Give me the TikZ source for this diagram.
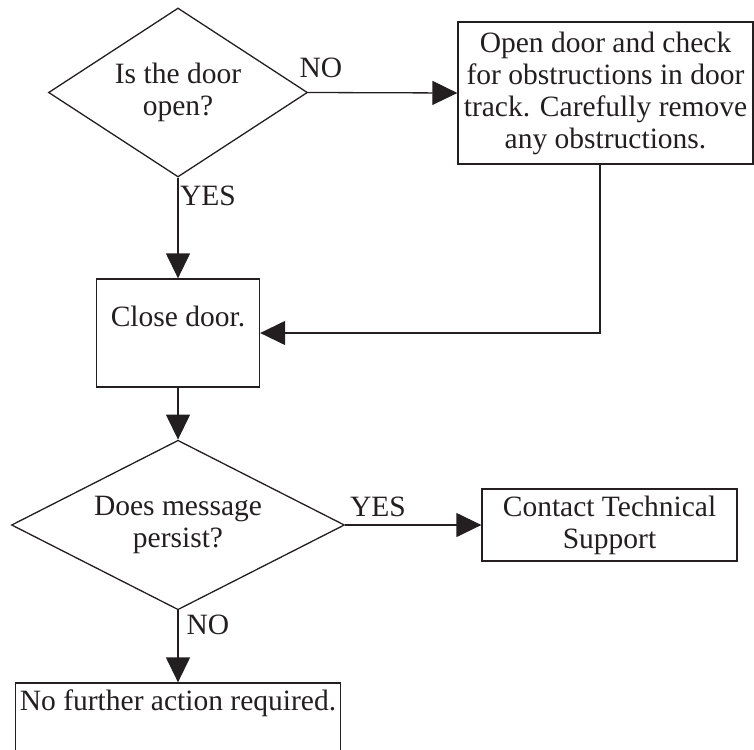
\documentclass[tikz,border=0pt]{standalone}
\usepackage{fontspec}
\setmainfont{Liberation Serif}
\usetikzlibrary{shapes.geometric,arrows.meta}
\definecolor{ink}{HTML}{231F20}
\begin{document}
\begin{tikzpicture}[x=1pt,y=-1pt,
  every node/.style={font=\fontsize{29.5}{32}\selectfont, text=ink},
  dia/.style={diamond, draw=ink, line width=1.3pt, inner sep=0pt, aspect=1.5, align=center},
  boxn/.style={rectangle, draw=ink, line width=1.3pt, inner sep=0pt, align=center},
  arr/.style={draw=ink, line width=1.3pt, -{Triangle[width=24pt,length=25pt]}},
  lab/.style={inner sep=0pt}]
\useasboundingbox (0,0) rectangle (754,749);
\node[dia, minimum width=259pt, minimum height=169pt] (d1) at (178,92.5) {Is the door\\open?};
\node[boxn, minimum width=295pt, minimum height=142pt] (b2) at (605.5,93) {Open door and check\\for obstructions in door\\track. Carefully remove\\any obstructions.};
\node[boxn, minimum width=163pt, minimum height=108pt,
  label={[anchor=center, yshift=-38pt, inner sep=0pt]north:Close door.}] (b1) at (178,333) {};
\node[dia, minimum width=333pt, minimum height=154pt] (d2) at (178,525) {Does message\\persist?};
\node[boxn, minimum width=255pt, minimum height=72pt] (b3) at (609.5,525) {Contact Technical\\Support};
\node[boxn, minimum width=325pt, minimum height=110pt,
  label={[anchor=center, yshift=-21pt, inner sep=0pt]north:No further action required.}] (b4) at (178,738) {};
\node[lab] (l1) at (321,68) {NO};
\node[lab] (l2) at (208,196) {YES};
\node[lab] (l3) at (378,507) {YES};
\node[lab] (l4) at (208,625) {NO};
\draw[arr] (d1.east) -- (b2.west);
\draw[arr] (d1.south) -- (b1.north);
\draw[arr] ([xshift=-5.5pt]b2.south) |- (b1.east);
\draw[arr] (b1.south) -- (d2.north);
\draw[arr] (d2.east) -- (b3.west);
\draw[arr] (d2.south) -- (b4.north);
\end{tikzpicture}
\end{document}
